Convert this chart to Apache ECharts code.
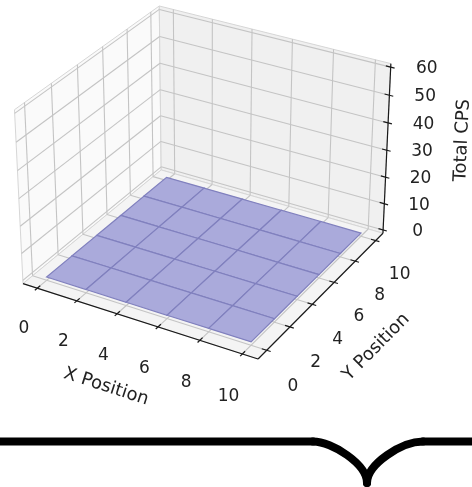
<!DOCTYPE html>
<html><head><meta charset="utf-8">
<script src="https://cdn.jsdelivr.net/npm/echarts@6/dist/echarts.min.js"></script>
<style>html,body{margin:0;padding:0;background:#fff}#c{width:472px;height:487px}</style>
</head><body><div id="c"></div>
<script>
// ---- data ----
const xTicks = [0, 2, 4, 6, 8, 10];
const yTicks = [0, 2, 4, 6, 8, 10];
const zTicks = [0, 10, 20, 30, 40, 50, 60];
const xGrid = [0, 2, 4, 6, 8, 10];
const yGrid = [0, 2, 4, 6, 8, 10];
const zValues = [
  [0, 0, 0, 0, 0, 0],
  [0, 0, 0, 0, 0, 0],
  [0, 0, 0, 0, 0, 0],
  [0, 0, 0, 0, 0, 0],
  [0, 0, 0, 0, 0, 0],
  [0, 0, 0, 0, 0, 0]
];
const xName = 'X Position';
const yName = 'Y Position';
const zName = 'Total CPS';
const xLim = [-0.5, 10.5];
const yLim = [-0.5, 10.5];
const zLim = [0, 60];

// ---- view (matplotlib-like 3D projection) ----
const W = 472, H = 487;
const CX0 = 206.3, CY0 = 174, SX = 2262, SY = 2220;
const ELEV = 30 * Math.PI / 180, AZIM = -60 * Math.PI / 180, DIST = 10;
const k = 1.8294640721620434 / Math.hypot(4, 4, 3);
const BA = [4 * k, 4 * k, 3 * k];
const Wv = [Math.cos(ELEV) * Math.cos(AZIM), Math.cos(ELEV) * Math.sin(AZIM), Math.sin(ELEV)];
const U = [-Math.sin(AZIM), Math.cos(AZIM), 0];
const V = [Wv[1] * U[2] - Wv[2] * U[1], Wv[2] * U[0] - Wv[0] * U[2], Wv[0] * U[1] - Wv[1] * U[0]];
const dot = (a, b) => a[0] * b[0] + a[1] * b[1] + a[2] * b[2];
function P(x, y, z) {
  const c = [
    (x - xLim[0]) / (xLim[1] - xLim[0]) * BA[0] - BA[0] / 2,
    (y - yLim[0]) / (yLim[1] - yLim[0]) * BA[1] - BA[1] / 2,
    (z - zLim[0]) / (zLim[1] - zLim[0]) * BA[2] - BA[2] / 2
  ];
  const d = DIST - dot(Wv, c);
  return [dot(U, c) / d, dot(V, c) / d];
}
const pad = l => (l[1] - l[0]) / 48;
const XB = [xLim[0] - pad(xLim), xLim[1] + pad(xLim)];
const YB = [yLim[0] - pad(yLim), yLim[1] + pad(yLim)];
const ZB = [zLim[0] - pad(zLim), zLim[1] + pad(zLim)];
const XR = XB[1] - XB[0], YR = YB[1] - YB[0], ZR = ZB[1] - ZB[0];

// panes
const panes = [
  { pts: [[XB[0], YB[0], ZB[0]], [XB[0], YB[1], ZB[0]], [XB[0], YB[1], ZB[1]], [XB[0], YB[0], ZB[1]]], fill: '#fafafa' },
  { pts: [[XB[0], YB[1], ZB[0]], [XB[1], YB[1], ZB[0]], [XB[1], YB[1], ZB[1]], [XB[0], YB[1], ZB[1]]], fill: '#f0f0f0' },
  { pts: [[XB[0], YB[0], ZB[0]], [XB[1], YB[0], ZB[0]], [XB[1], YB[1], ZB[0]], [XB[0], YB[1], ZB[0]]], fill: '#f4f4f4' }
];
// grid lines
const gridLines = [];
yTicks.forEach(y => gridLines.push([[XB[0], y, ZB[0]], [XB[0], y, ZB[1]]]));
zTicks.forEach(z => gridLines.push([[XB[0], YB[0], z], [XB[0], YB[1], z]]));
xTicks.forEach(x => gridLines.push([[x, YB[1], ZB[0]], [x, YB[1], ZB[1]]]));
zTicks.forEach(z => gridLines.push([[XB[0], YB[1], z], [XB[1], YB[1], z]]));
xTicks.forEach(x => gridLines.push([[x, YB[0], ZB[0]], [x, YB[1], ZB[0]]]));
yTicks.forEach(y => gridLines.push([[XB[0], y, ZB[0]], [XB[1], y, ZB[0]]]));

// surface cells (back to front)
const cells = [];
for (let i = 0; i < xGrid.length - 1; i++)
  for (let j = yGrid.length - 2; j >= 0; j--) cells.push([i, j]);

// axis lines & ticks
const axisLines = [
  [[XB[0], YB[0], ZB[0]], [XB[1], YB[0], ZB[0]]],
  [[XB[1], YB[0], ZB[0]], [XB[1], YB[1], ZB[0]]],
  [[XB[1], YB[1], ZB[0]], [XB[1], YB[1], ZB[1]]]
];
const dX = (xLim[1] - xLim[0]) / 12, dY = (yLim[1] - yLim[0]) / 12;
const IN = 0.25, OUT = 0.2;
xTicks.forEach(x => axisLines.push([[x, YB[0] - OUT * dY, ZB[0]], [x, YB[0] + IN * dY, ZB[0]]]));
yTicks.forEach(y => axisLines.push([[XB[1] + OUT * dX, y, ZB[0]], [XB[1] - IN * dX, y, ZB[0]]]));
zTicks.forEach(z => axisLines.push([[XB[1] + OUT * dX, YB[1], z], [XB[1] - IN * dX, YB[1], z]]));

// texts
const texts = [];
xTicks.forEach(x => texts.push({ p: [x, YB[0] - 0.098 * YR, ZB[0] - 0.171 * ZR], t: String(x), r: 0, s: 17 }));
yTicks.forEach(y => texts.push({ p: [XB[1] + 0.108 * XR, y, ZB[0] - 0.162 * ZR], t: String(y), r: 0, s: 17 }));
zTicks.forEach(z => texts.push({ p: [XB[1] + 0.121 * XR, YB[1] + 0.055 * YR, z], t: String(z), r: 0, s: 17 }));
function angleOf(a, b) {
  const pa = P(...a), pb = P(...b);
  let ang = Math.atan2((pb[1] - pa[1]) * SY, (pb[0] - pa[0]) * SX);
  if (ang > Math.PI / 2) ang -= Math.PI;
  if (ang < -Math.PI / 2) ang += Math.PI;
  return ang;
}
const xm = (xLim[0] + xLim[1]) / 2, ym = (yLim[0] + yLim[1]) / 2, zm = (ZB[0] + ZB[1]) / 2;
texts.push({ p: [xm, YB[0] - 0.22 * YR, ZB[0] - 0.22 * ZR], t: xName, r: angleOf(axisLines[0][0], axisLines[0][1]), s: 18 });
texts.push({ p: [XB[1] + 0.225 * XR, ym, ZB[0] - 0.225 * ZR], t: yName, r: angleOf(axisLines[1][0], axisLines[1][1]), s: 18 });
texts.push({ p: [XB[1] + 0.215 * XR, YB[1] + 0.215 * YR, zm], t: zName, r: angleOf(axisLines[2][0], axisLines[2][1]), s: 18 });

const FONT = 'DejaVu Sans';
const chart = echarts.init(document.getElementById('c'));
const idx = n => Array.from({ length: n }, (_, i) => [i, 0]);
const braceStyle = { stroke: '#000', lineWidth: 8, lineCap: 'round', fill: null };
chart.setOption({
  animation: false,
  grid: { left: 0, right: 0, top: 0, bottom: 0 },
  xAxis: { type: 'value', min: -CX0 / SX, max: (W - CX0) / SX, show: false },
  yAxis: { type: 'value', min: (CY0 - H) / SY, max: CY0 / SY, show: false },
  series: [
    {
      type: 'custom', coordinateSystem: 'cartesian2d', clip: false, silent: true, z: 1,
      data: idx(panes.length),
      renderItem: (params, api) => {
        const pn = panes[params.dataIndex];
        return { type: 'polygon', shape: { points: pn.pts.map(p => api.coord(P(...p))) },
          style: { fill: pn.fill, stroke: '#d6d6d6', lineWidth: 1 } };
      }
    },
    {
      type: 'custom', coordinateSystem: 'cartesian2d', clip: false, silent: true, z: 2,
      data: idx(gridLines.length),
      renderItem: (params, api) => {
        const g = gridLines[params.dataIndex];
        const a = api.coord(P(...g[0])), b = api.coord(P(...g[1]));
        return { type: 'line', shape: { x1: a[0], y1: a[1], x2: b[0], y2: b[1] },
          style: { stroke: '#c4c4c4', lineWidth: 1.1 } };
      }
    },
    {
      type: 'custom', coordinateSystem: 'cartesian2d', clip: false, silent: true, z: 3,
      data: idx(axisLines.length),
      renderItem: (params, api) => {
        const g = axisLines[params.dataIndex];
        const a = api.coord(P(...g[0])), b = api.coord(P(...g[1]));
        return { type: 'line', shape: { x1: a[0], y1: a[1], x2: b[0], y2: b[1] },
          style: { stroke: '#1a1a1a', lineWidth: 1.2 } };
      }
    },
    {
      type: 'custom', coordinateSystem: 'cartesian2d', clip: false, silent: true, z: 4,
      data: cells,
      renderItem: (params, api) => {
        const [i, j] = cells[params.dataIndex];
        const pts = [
          [xGrid[i], yGrid[j], zValues[j][i]],
          [xGrid[i + 1], yGrid[j], zValues[j][i + 1]],
          [xGrid[i + 1], yGrid[j + 1], zValues[j + 1][i + 1]],
          [xGrid[i], yGrid[j + 1], zValues[j + 1][i]]
        ].map(p => api.coord(P(...p)));
        return { type: 'polygon', shape: { points: pts },
          style: { fill: '#aaaadb', stroke: '#8080be', lineWidth: 1.2 } };
      }
    },
    {
      type: 'custom', coordinateSystem: 'cartesian2d', clip: false, silent: true, z: 5,
      data: idx(texts.length),
      renderItem: (params, api) => {
        const t = texts[params.dataIndex];
        const p = api.coord(P(...t.p));
        return { type: 'text', x: p[0], y: p[1], rotation: t.r,
          style: { text: t.t, fill: '#222', fontSize: t.s, fontFamily: FONT, align: 'center', verticalAlign: 'middle' } };
      }
    }
  ],
  graphic: [
    { type: 'line', silent: true, shape: { x1: -10, y1: 441.5, x2: 313, y2: 441.5 }, style: braceStyle },
    { type: 'bezierCurve', silent: true, shape: { x1: 313, y1: 441.5, cpx1: 332, cpy1: 441.5, cpx2: 367, cpy2: 464, x2: 367, y2: 483 }, style: braceStyle },
    { type: 'bezierCurve', silent: true, shape: { x1: 367, y1: 483, cpx1: 367, cpy1: 464, cpx2: 402, cpy2: 441.5, x2: 423, y2: 441.5 }, style: braceStyle },
    { type: 'line', silent: true, shape: { x1: 423, y1: 441.5, x2: 482, y2: 441.5 }, style: braceStyle }
  ]
});
</script></body></html>
